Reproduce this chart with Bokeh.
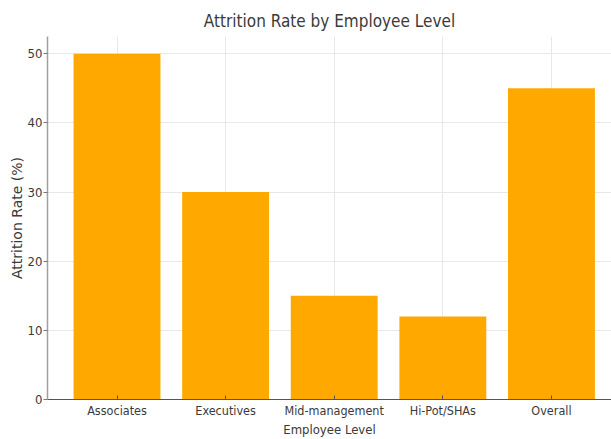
from bokeh.plotting import figure
from bokeh.models import Range1d, FixedTicker, ColumnDataSource
from bokeh.embed import file_html
from bokeh.resources import INLINE

# Attrition rate (%) for each employee level
categories = ["Associates", "Executives", "Mid-management", "Hi-Pot/SHAs", "Overall"]
attrition_rate = [50, 30, 15, 12, 45]
y_ticks = [0, 10, 20, 30, 40, 50]

x_pos = list(range(len(categories)))
source = ColumnDataSource(dict(x=x_pos, rate=attrition_rate, level=categories))

NARROW = "DejaVu Sans Condensed, DejaVu Sans"
FONT = "DejaVu Sans"
TEXT = "#3a3a3a"

p = figure(
    width=611, height=439,
    output_backend="svg", toolbar_location=None,
    x_range=Range1d(-0.64, 4.553), y_range=Range1d(0, 52.5),
    title="Attrition Rate by Employee Level",
    min_border_left=47, min_border_right=0,
    min_border_top=36, min_border_bottom=39,
)
p.outline_line_color = None
p.background_fill_color = "white"
p.border_fill_color = "white"

p.title.align = "center"
p.title.text_font = NARROW
p.title.text_font_size = "17px"
p.title.text_font_style = "normal"
p.title.text_color = TEXT
p.title.standoff = 12

p.vbar(x="x", top="rate", width=0.8, source=source,
       fill_color="#ffa800", line_color=None)

# x axis: one tick per employee level
p.xaxis.ticker = FixedTicker(ticks=x_pos)
p.xaxis.major_label_overrides = {i: c for i, c in zip(x_pos, categories)}
p.xaxis.axis_label = "Employee Level"
p.xaxis.major_tick_in = 4
p.xaxis.major_tick_out = 0
p.xaxis.minor_tick_line_color = None
p.xaxis.axis_line_color = "#555555"
p.xaxis.axis_line_width = 1.2
p.xaxis.major_tick_line_color = "#555555"
p.xaxis.major_label_standoff = 3
p.xaxis.major_label_text_font = NARROW
p.xaxis.major_label_text_font_size = "12.5px"
p.xaxis.axis_label_text_font = NARROW
p.xaxis.axis_label_text_font_size = "13px"
p.xaxis.axis_label_standoff = 1

# y axis
p.yaxis.ticker = FixedTicker(ticks=y_ticks)
p.yaxis.axis_label = "Attrition Rate (%)"
p.yaxis.major_tick_in = 0
p.yaxis.major_tick_out = 4
p.yaxis.minor_tick_line_color = None
p.yaxis.axis_line_color = "#a0a0a0"
p.yaxis.axis_line_width = 1.5
p.yaxis.major_tick_line_color = "#777777"
p.yaxis.major_label_standoff = 1
p.yaxis.major_label_text_font = NARROW
p.yaxis.major_label_text_font_size = "13px"
p.yaxis.axis_label_text_font = FONT
p.yaxis.axis_label_text_font_size = "14px"
p.yaxis.axis_label_standoff = 0

for ax in (p.xaxis, p.yaxis):
    ax.major_label_text_color = TEXT
    ax.axis_label_text_font_style = "normal"
    ax.axis_label_text_color = TEXT

p.xgrid.ticker = FixedTicker(ticks=x_pos)
p.ygrid.ticker = FixedTicker(ticks=y_ticks)
p.grid.grid_line_color = "#e8e8e8"
p.grid.grid_line_width = 1

open("out.html", "w").write(file_html(p, INLINE))
